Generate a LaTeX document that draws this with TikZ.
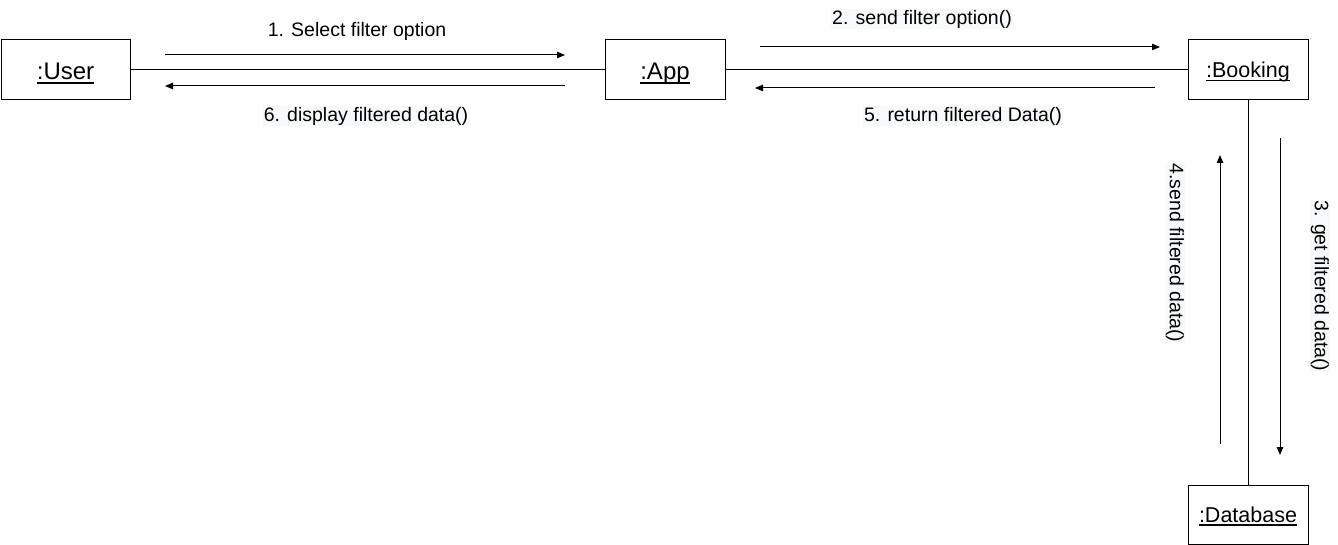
\documentclass[tikz,border=0pt]{standalone}
\usepackage{fontspec}
\setmainfont{Liberation Sans}
\usetikzlibrary{arrows.meta}
\definecolor{lblbg}{RGB}{248,249,250}
\newcommand{\myuline}[1]{\leavevmode\setbox0\hbox{#1}\rlap{\vrule height -0.11em depth 0.175em width \wd0}\box0}
\begin{document}
\begin{tikzpicture}[x=1pt,y=-1pt,
  obj/.style={draw,line width=1pt,minimum height=60pt,inner sep=0pt,text height=0.72*#1 pt,text depth=0.2*#1 pt,font=\fontsize{#1}{#1}\selectfont},
  link/.style={line width=1pt},
  msg/.style={line width=1pt,-{Triangle[length=8pt,width=6.5pt]}},
  lbl/.style={inner sep=1pt,font=\fontsize{19.5}{22}\selectfont},
  lblg/.style={lbl,fill=lblbg}]
\useasboundingbox (0,0) rectangle (1338,545);
% objects
\node[obj=24,minimum width=129pt] (user) at (65.5,70) {\raisebox{-3.5pt}{\myuline{:User}}};
\node[obj=24,minimum width=120pt] (app) at (665,70) {\raisebox{-3.5pt}{\myuline{:App}}};
\node[obj=21.5,minimum width=120pt] (booking) at (1248,70) {\raisebox{-2pt}{\myuline{:Booking}}};
\node[obj=21.5,minimum width=120pt,minimum height=59pt] (db) at (1248,514.5) {\raisebox{-2pt}{\myuline{:Database}}};
% links
\draw[link] (user.east) -- (app.west);
\draw[link] (app.east) -- (booking.west);
\draw[link] (booking.south) -- (db.north);
% message coordinates
\coordinate (m1s) at (165,55);  \coordinate (m1e) at (565,55);
\coordinate (m6s) at (565,86);  \coordinate (m6e) at (165,86);
\coordinate (m2s) at (760,47);  \coordinate (m2e) at (1160,47);
\coordinate (m5s) at (1155,88); \coordinate (m5e) at (755,88);
\coordinate (m3s) at (1280,138); \coordinate (m3e) at (1280,455);
\coordinate (m4s) at (1220,444); \coordinate (m4e) at (1220,155);
% messages
\draw[msg] (m1s) -- (m1e);
\draw[msg] (m6s) -- (m6e);
\draw[msg] (m2s) -- (m2e);
\draw[msg] (m5s) -- (m5e);
\draw[msg] (m3s) -- (m3e);
\draw[msg] (m4s) -- (m4e);
% labels
\node[lbl]  (l1) at (357,31)  {1. Select filter option};
\node[lblg] (l6) at (366,116) {6. display filtered data()};
\node[lblg] (l2) at (922,19)  {2. send filter option()};
\node[lblg] (l5) at (963,116) {5. return filtered Data()};
\node[lblg,rotate=-90] (l4) at (1175,253) {4.send filtered data()};
\node[lblg,rotate=-90] (l3) at (1320,286) {3. get filtered data()};
\end{tikzpicture}
\end{document}
